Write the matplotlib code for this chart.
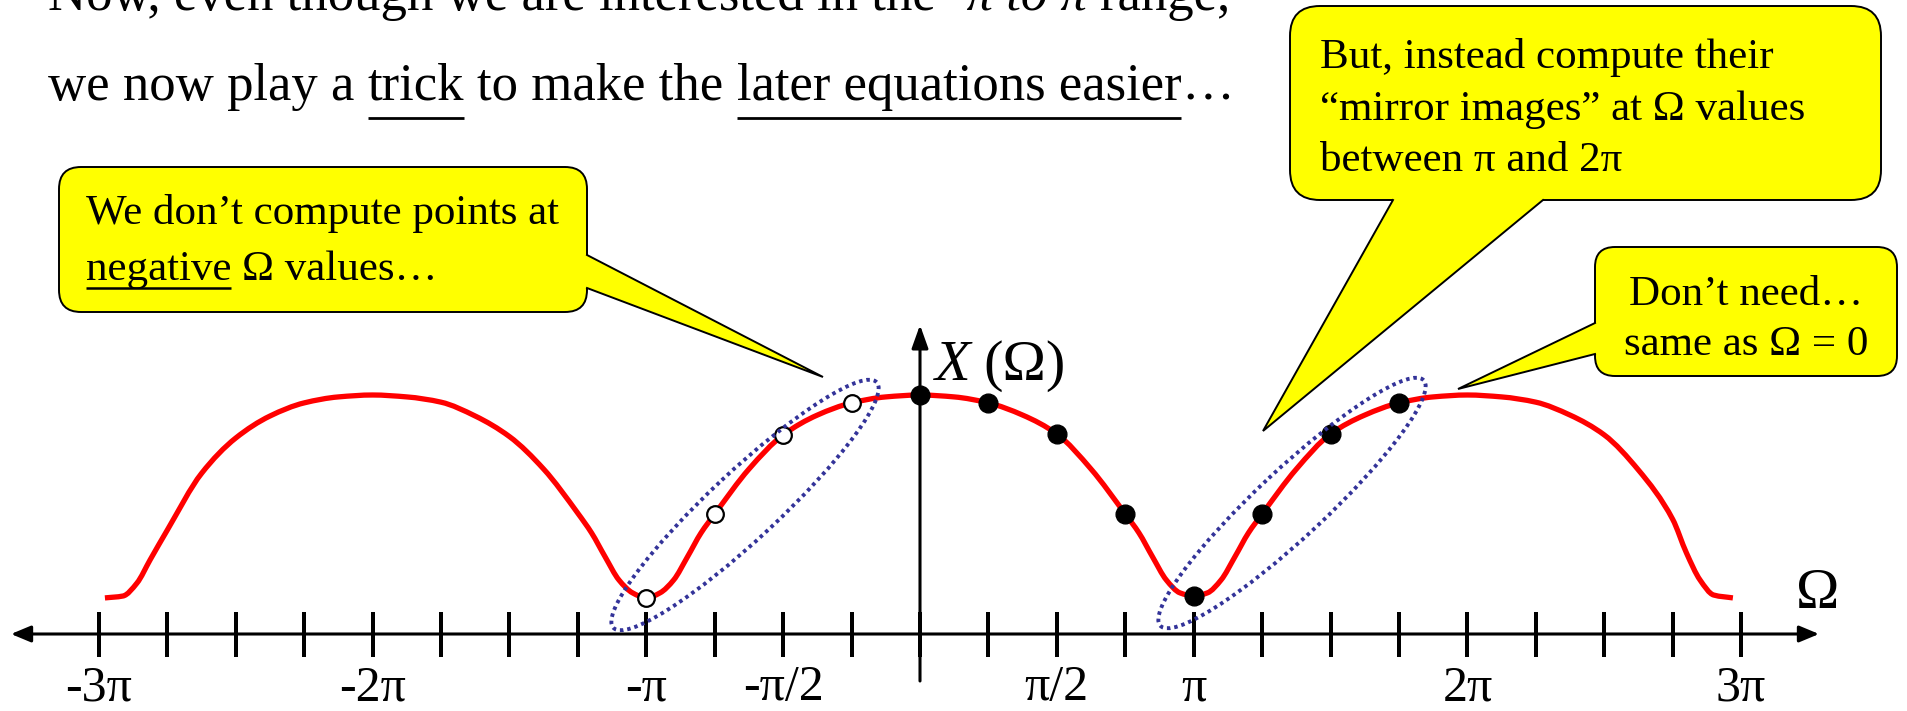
import numpy as np
import matplotlib
matplotlib.use("Agg")
import matplotlib.pyplot as plt
from matplotlib.patches import FancyBboxPatch, Ellipse, Polygon, PathPatch
from matplotlib.path import Path

# ---------------------------------------------------------------- data
# Spectrum magnitude |X(Ω)|, Ω given in multiples of π
omega_pi = [-2.978, -2.912, -2.861, -2.813, -2.75, -2.625, -2.5, -2.375,
            -2.25, -2.125, -2.0, -1.875, -1.75, -1.625, -1.5, -1.375,
            -1.25, -1.2, -1.15, -1.1, -1.05, -1.0, -0.95, -0.9,
            -0.85, -0.8, -0.75, -0.625, -0.5, -0.375, -0.25, -0.125,
            0.0, 0.125, 0.25, 0.375, 0.5, 0.625, 0.75, 0.8,
            0.85, 0.9, 0.95, 1.0, 1.05, 1.1, 1.15, 1.2,
            1.25, 1.375, 1.5, 1.625, 1.75, 1.875, 2.0, 2.125,
            2.25, 2.375, 2.5, 2.625, 2.75, 2.8, 2.85, 2.9, 2.97]
x_mag = [0.151, 0.159, 0.213, 0.310, 0.435, 0.672, 0.820, 0.912,
         0.967, 0.992, 1.0, 0.992, 0.970, 0.912, 0.826, 0.690,
         0.505, 0.423, 0.322, 0.226, 0.172, 0.151, 0.172, 0.226,
         0.322, 0.423, 0.502, 0.690, 0.833, 0.916, 0.967, 0.992,
         1.0, 0.992, 0.967, 0.916, 0.837, 0.690, 0.502, 0.423,
         0.322, 0.226, 0.172, 0.159, 0.172, 0.226, 0.322, 0.423,
         0.502, 0.690, 0.837, 0.916, 0.967, 0.992, 1.0, 0.992,
         0.970, 0.916, 0.833, 0.686, 0.480, 0.340, 0.226, 0.163, 0.151]

# Samples that are computed (0 ... 7π/4)
computed_pi = [0.0, 0.25, 0.5, 0.75, 1.0, 1.25, 1.5, 1.75]
computed_mag = [1.0, 0.967, 0.837, 0.502, 0.159, 0.502, 0.837, 0.967]
# Samples at negative Ω that are not computed
skipped_pi = [-1.0, -0.75, -0.5, -0.25]
skipped_mag = [0.151, 0.502, 0.833, 0.967]

# Axis ticks every π/4, only some of them labelled
tick_pi = [k / 4 for k in range(-12, 13)]
tick_names = {-3.0: "-3π", -2.0: "-2π", -1.0: "-π", -0.5: "-π/2",
              0.5: "π/2", 1.0: "π", 2.0: "2π", 3.0: "3π"}

# ---------------------------------------------------------------- layout
W, H, DPI = 1908, 711, 100
SERIF = "Liberation Serif"
PT = DPI / 72.0           # pixels per point
X0, Y0 = 920.0, 634.0     # pixel position of the origin
PI_PX = 273.7             # pixels per π on the Ω axis
UNIT = 239.0              # pixels per unit of |X|

fig = plt.figure(figsize=(W / DPI, H / DPI), dpi=DPI)
ax = fig.add_axes([0, 0, 1, 1])
ov = fig.add_axes([0, 0, 1, 1], facecolor="none")
ov.set_xlim(0, W)
ov.set_ylim(H, 0)
ov.axis("off")


def px2x(px):
    return (px - X0) / PI_PX * np.pi


def px2y(py):
    return (Y0 - py) / UNIT


ax.set_xlim(px2x(0), px2x(W))
ax.set_ylim(px2y(H), px2y(0))
ax.patch.set_visible(False)
for sp in ax.spines.values():
    sp.set_visible(False)
ax.spines["bottom"].set_position(("data", 0))
ax.set_yticks([])
ax.set_xticks(np.array(tick_pi) * np.pi)
ax.set_xticklabels([tick_names.get(t, "") for t in tick_pi])
ax.tick_params(axis="x", direction="inout", length=45 / PT, width=4 / PT,
               pad=6, labelsize=36, labelfontfamily=SERIF, color="black")

# Ω axis with arrow heads at both ends
ax.annotate("", xy=(px2x(11), 0), xytext=(px2x(1819), 0),
            arrowprops=dict(arrowstyle="<|-|>,head_length=12,head_width=5",
                            mutation_scale=1, lw=2.2, color="black",
                            shrinkA=0, shrinkB=0), zorder=3)
# vertical X(Ω) axis
ax.annotate("", xy=(0, px2y(325)), xytext=(0, px2y(681)),
            arrowprops=dict(arrowstyle="-|>,head_length=14,head_width=5",
                            mutation_scale=1, lw=2.2, color="black",
                            shrinkA=0, shrinkB=0), zorder=3)


def smooth_path(xs, ys):
    """Piecewise cubic (shape preserving) path through the given points."""
    xs = np.asarray(xs, float)
    ys = np.asarray(ys, float)
    h = np.diff(xs)
    d = np.diff(ys) / h
    m = np.zeros_like(ys)
    m[0], m[-1] = d[0], d[-1]
    for k in range(1, len(xs) - 1):
        if d[k - 1] * d[k] > 0:
            w1 = 2 * h[k] + h[k - 1]
            w2 = h[k] + 2 * h[k - 1]
            m[k] = (w1 + w2) / (w1 / d[k - 1] + w2 / d[k])
    verts = [(xs[0], ys[0])]
    codes = [Path.MOVETO]
    for k in range(len(xs) - 1):
        verts += [(xs[k] + h[k] / 3, ys[k] + m[k] * h[k] / 3),
                  (xs[k + 1] - h[k] / 3, ys[k + 1] - m[k + 1] * h[k] / 3),
                  (xs[k + 1], ys[k + 1])]
        codes += [Path.CURVE4] * 3
    return Path(verts, codes)


# spectrum curve and samples
ax.add_patch(PathPatch(smooth_path(np.array(omega_pi) * np.pi, x_mag),
                       fill=False, ec="#ff0000", lw=3.8, capstyle="butt",
                       joinstyle="round", zorder=2))
ax.plot(np.array(computed_pi) * np.pi, computed_mag, "o", ms=13.5,
        mfc="black", mec="black", zorder=4)
ax.plot(np.array(skipped_pi) * np.pi, skipped_mag, "o", ms=12,
        mfc="white", mec="black", mew=1.6, zorder=4)

# axis names
ov.text(935, 380, "X", fontsize=42, family=SERIF, style="italic",
        ha="left", va="baseline")
ov.text(983, 380, "(Ω)", fontsize=42, family=SERIF, ha="left", va="baseline")
ov.text(1818, 608, "Ω", fontsize=42, family=SERIF, ha="center", va="baseline")

# dotted groupings of mirrored samples
for cx, cy in [(745, 505), (1292, 503)]:
    ov.add_patch(Ellipse((cx, cy), width=360, height=68, angle=-43,
                         fill=False, ec="#333399", lw=2.8,
                         ls=(0, (0.9, 1.0)), capstyle="butt", zorder=3))

renderer = fig.canvas.get_renderer()


def text_w(s, size, **kw):
    t = ov.text(0, 0, s, fontsize=size, family=SERIF, **kw)
    w = t.get_window_extent(renderer).width
    t.remove()
    return w


def runs_line(x, y, runs, size, ul_off, ul_lw, zorder=8):
    """Write text pieces side by side; runs = (text, style, underline, gap)."""
    space = text_w("a a", size) - text_w("aa", size)
    for txt, style, ul, gap in runs:
        if gap:
            x += space
        t = ov.text(x, y, txt, fontsize=size, family=SERIF, style=style,
                    ha="left", va="baseline", zorder=zorder)
        w = t.get_window_extent(renderer).width
        if ul:
            ov.plot([x, x + w], [y + ul_off, y + ul_off], color="black",
                    lw=ul_lw, solid_capstyle="butt", zorder=zorder)
        x += w


# heading text
runs_line(48, 10, [("Now, even though we are interested in the", "normal", False, False),
                   ("-π to π", "italic", False, True),
                   ("range,", "normal", False, True)], 38, 18, 2.0)
runs_line(48, 100, [("we now play a", "normal", False, False),
                    ("trick", "normal", True, True),
                    ("to make the", "normal", False, True),
                    ("later equations easier", "normal", True, True),
                    ("…", "normal", False, False)], 38, 18, 2.0)


def callout(x0, y0, x1, y1, r, base, tip, inward):
    ov.add_patch(FancyBboxPatch((x0, y0), x1 - x0, y1 - y0,
                                boxstyle=f"round,pad=0,rounding_size={r}",
                                fc="#ffff00", ec="black", lw=1.4, zorder=5))
    (p1, p2) = base
    q1 = (p1[0] + inward[0], p1[1] + inward[1])
    q2 = (p2[0] + inward[0], p2[1] + inward[1])
    ov.add_patch(Polygon([q1, p1, tip, p2, q2], closed=True, fc="#ffff00",
                         ec="none", zorder=6))
    ov.plot([p1[0], tip[0], p2[0]], [p1[1], tip[1], p2[1]], color="black",
            lw=1.4, solid_joinstyle="miter", zorder=7)


CS = 31
callout(59, 167, 587, 312, 22, ((587, 255), (587, 288)), (823, 377), (-4, 0))
ov.text(86, 224, "We don’t compute points at", fontsize=CS, family=SERIF,
        ha="left", va="baseline", zorder=8)
runs_line(86, 280, [("negative", "normal", True, False),
                    ("Ω values…", "normal", False, True)], CS, 8, 1.8)

callout(1290, 6, 1881, 200, 30, ((1393, 200), (1543, 200)), (1263, 431), (0, -4))
for yb, line in [(68, "But, instead compute their"),
                 (120, "“mirror images” at Ω values"),
                 (171, "between π and 2π")]:
    ov.text(1320, yb, line, fontsize=CS, family=SERIF, ha="left",
            va="baseline", zorder=8)

callout(1595, 247, 1897, 376, 20, ((1595, 323), (1595, 354)), (1458, 389), (4, 0))
for yb, line in [(305, "Don’t need…"), (355, "same as Ω = 0")]:
    ov.text(1746, yb, line, fontsize=CS, family=SERIF, ha="center",
            va="baseline", zorder=8)

fig.savefig("out.png", dpi=DPI)
